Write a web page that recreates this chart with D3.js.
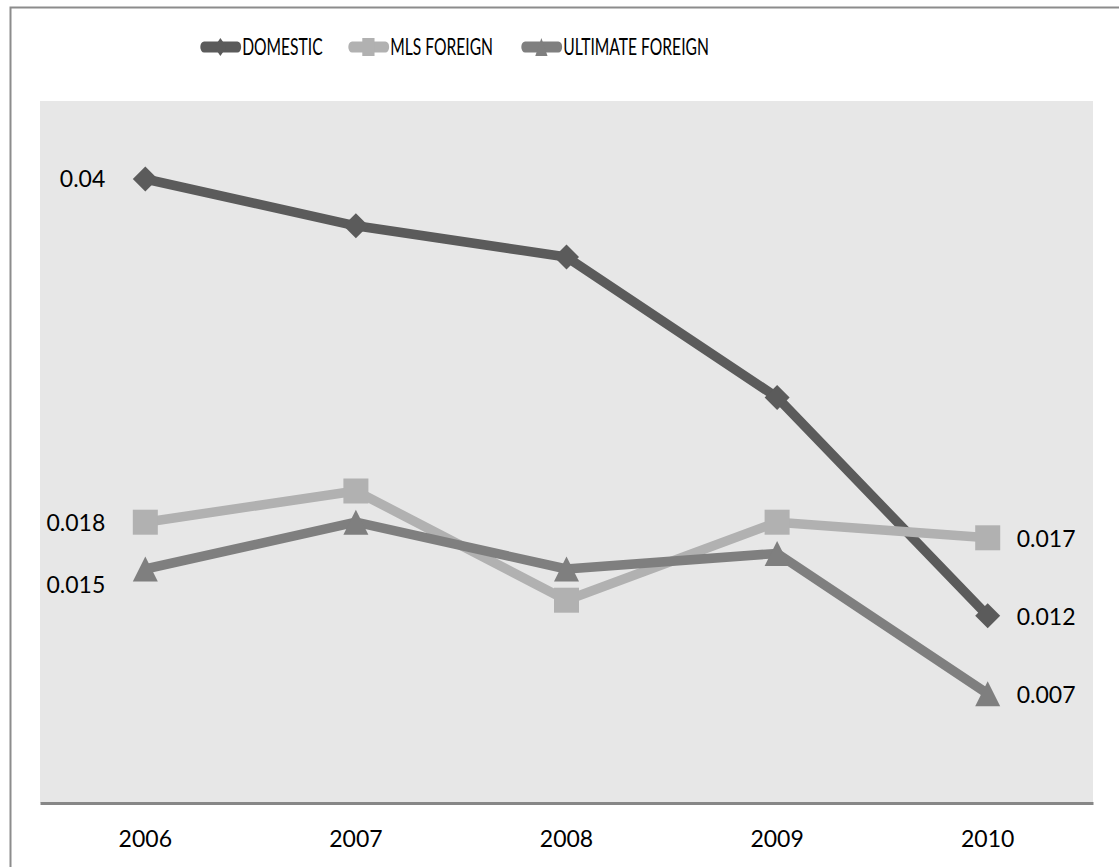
<!DOCTYPE html>
<html>
<head>
<meta charset="utf-8">
<script src="https://cdn.jsdelivr.net/npm/d3@7"></script>
<style>
  body { margin: 0; background: #fff; }
  text { font-family: Lato, "Open Sans", sans-serif; fill: #000; }
</style>
</head>
<body>
<svg id="chart" width="1119" height="867"></svg>
<script>
const years = ["2006", "2007", "2008", "2009", "2010"];
const domestic = [0.04, 0.037, 0.035, 0.026, 0.012];
const mlsForeign = [0.018, 0.020, 0.013, 0.018, 0.017];
const ultimateForeign = [0.015, 0.018, 0.015, 0.016, 0.007];

// custom marker shapes (sized by bounding box, not area)
const diamond = {
  draw(ctx, s) {
    const r = s / 2;
    ctx.moveTo(0, -r); ctx.lineTo(r, 0); ctx.lineTo(0, r); ctx.lineTo(-r, 0); ctx.closePath();
  },
};
const square = {
  draw(ctx, s) {
    const r = s / 2;
    ctx.moveTo(-r, -r); ctx.lineTo(r, -r); ctx.lineTo(r, r); ctx.lineTo(-r, r); ctx.closePath();
  },
};
const triangle = {
  draw(ctx, s) {
    const r = s / 2;
    ctx.moveTo(0, -r); ctx.lineTo(r, r); ctx.lineTo(-r, r); ctx.closePath();
  },
};

const series = [
  { name: "DOMESTIC", values: domestic, color: "#5b5b5b", shape: diamond, size: 25 },
  { name: "MLS FOREIGN", values: mlsForeign, color: "#b1b1b1", shape: square, size: 25 },
  { name: "ULTIMATE FOREIGN", values: ultimateForeign, color: "#7f7f7f", shape: triangle, size: 25 },
];

const svg = d3.select("#chart");
const plot = { left: 40, top: 101, right: 1093, bottom: 803 };

// outer frame (only top and left edges visible)
svg.append("path")
  .attr("d", `M10.5,867 L10.5,7.5 L1119,7.5`)
  .attr("fill", "none")
  .attr("stroke", "#8c8c8c")
  .attr("stroke-width", 2);

svg.append("rect")
  .attr("x", plot.left).attr("y", plot.top)
  .attr("width", plot.right - plot.left).attr("height", plot.bottom - plot.top)
  .attr("fill", "#e7e7e7");

const x = d3.scaleBand().domain(years).range([plot.left, plot.right]);
const y = d3.scaleLinear().domain([0, 0.045]).range([plot.bottom, plot.top]);
const cx = (yr) => x(yr) + x.bandwidth() / 2;

const xAxis = svg.append("g")
  .attr("transform", `translate(0,${plot.bottom})`)
  .call(d3.axisBottom(x).tickSize(0).tickPadding(28));
xAxis.select(".domain").attr("stroke", "#878787").attr("stroke-width", 3);
xAxis.selectAll("text").attr("font-size", 23).attr("font-family", "Lato, sans-serif").attr("fill", "#000");

const line = d3.line()
  .x((d, i) => cx(years[i]))
  .y((d) => y(d));

series.forEach((s) => {
  svg.append("path")
    .datum(s.values)
    .attr("d", line)
    .attr("fill", "none")
    .attr("stroke", s.color)
    .attr("stroke-width", 9.5)
    .attr("stroke-linejoin", "round");
});

series.forEach((s) => {
  svg.selectAll(null)
    .data(s.values)
    .enter()
    .append("path")
    .attr("d", d3.symbol().type(s.shape).size(s.size))
    .attr("transform", (d, i) => `translate(${cx(years[i])},${y(d)})`)
    .attr("fill", s.color);
});

// end labels
const fmt = (v) => String(v);
[[domestic, 0], [mlsForeign, 1], [ultimateForeign, 16]].forEach(([s, dy]) => {
  svg.append("text")
    .attr("x", cx(years[0]) - 40)
    .attr("y", y(s[0]) + dy)
    .attr("dy", "0.35em")
    .attr("text-anchor", "end")
    .attr("font-size", 23)
    .text(fmt(s[0]));
});
[domestic, mlsForeign, ultimateForeign].forEach((s) => {
  svg.append("text")
    .attr("x", cx(years[4]) + 29)
    .attr("y", y(s[4]) + 1)
    .attr("dy", "0.35em")
    .attr("font-size", 23)
    .text(fmt(s[4]));
});

// legend (horizontally compressed, as in the original)
const legendX = [200, 348, 521];
series.forEach((s, i) => {
  const g = svg.append("g").attr("transform", `translate(${legendX[i]},47) scale(0.68,1)`);
  g.append("line")
    .attr("x1", 6).attr("x2", 55)
    .attr("y1", 0).attr("y2", 0)
    .attr("stroke", s.color)
    .attr("stroke-width", 11)
    .attr("stroke-linecap", "round");
  g.append("path")
    .attr("d", d3.symbol().type(s.shape).size(18))
    .attr("transform", "translate(30,0)")
    .attr("fill", s.color);
  g.append("text")
    .attr("x", 62)
    .attr("y", 0)
    .attr("dy", "0.35em")
    .attr("font-size", 23)
    .text(s.name);
});
</script>
</body>
</html>
